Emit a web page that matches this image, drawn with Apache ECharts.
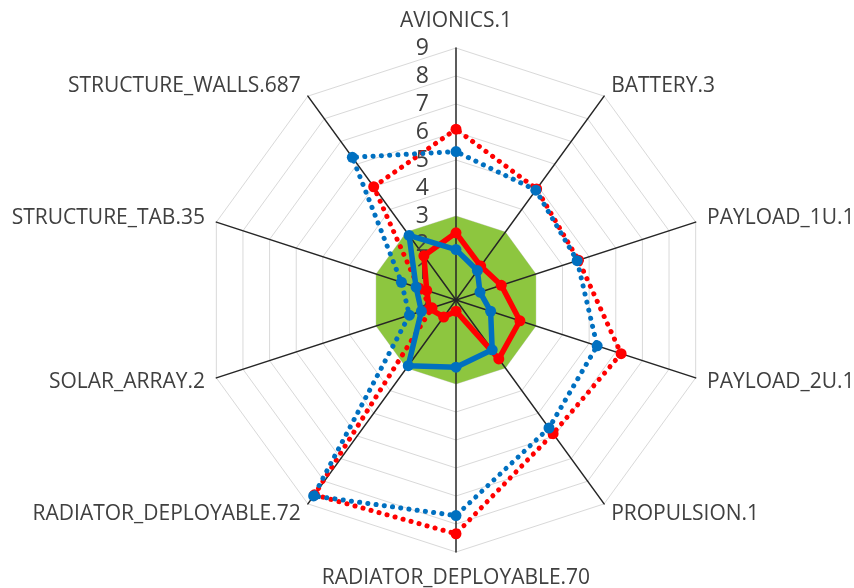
<!DOCTYPE html>
<html>
<head>
<meta charset="utf-8">
<script src="https://cdn.jsdelivr.net/npm/echarts@6/dist/echarts.min.js"></script>
<style>
  html, body { margin: 0; padding: 0; background: #fff; }
  #chart { width: 854px; height: 588px; }
</style>
</head>
<body>
<div id="chart"></div>
<script>
// Spokes, listed clockwise from the top
const categories = [
  'AVIONICS.1', 'BATTERY.3', 'PAYLOAD_1U.1', 'PAYLOAD_2U.1', 'PROPULSION.1',
  'RADIATOR_DEPLOYABLE.70', 'RADIATOR_DEPLOYABLE.72', 'SOLAR_ARRAY.2',
  'STRUCTURE_TAB.35', 'STRUCTURE_WALLS.687'
];
const tickLabels = ['0', '1', '2', '3', '4', '5', '6', '7', '8', '9'];
const axisMax = 9;

// Series values, same clockwise order as categories
const bandValues      = [3, 3, 3, 3, 3, 3, 3, 3, 3, 3];
const redDotted       = [6.1, 4.9, 4.6, 6.2, 5.9, 8.35, 8.6, 0.9, 1.4, 5.0];
const blueDotted      = [5.3, 4.85, 4.55, 5.3, 5.65, 7.7, 8.65, 1.75, 2.05, 6.3];
const redSolid        = [2.4, 1.5, 1.7, 2.4, 2.6, 0.4, 0.75, 1.0, 1.1, 1.95];
const blueSolid       = [1.8, 1.3, 0.9, 1.3, 2.2, 2.4, 2.9, 1.3, 1.5, 2.85];

const RED = '#ff0000';
const BLUE = '#0070c0';
const GREEN = '#8dc63f';
const TEXT = '#404040';
const FONT = '"Open Sans", Lato, sans-serif';

// ECharts lays radar spokes out counter-clockwise; reorder so they run clockwise
const order = [0, 9, 8, 7, 6, 5, 4, 3, 2, 1];
const reorder = arr => order.map(i => arr[i]);

const center = [456, 300];
const radius = 252;

const indicatorBase = reorder(categories).map(name => ({ name: name, min: 0, max: axisMax }));

// Background grid (rings) underneath everything
const gridRadar = {
  center: center, radius: radius, startAngle: 90, shape: 'polygon',
  splitNumber: axisMax, z: 0,
  indicator: indicatorBase.map(d => ({ name: d.name, min: d.min, max: d.max })),
  axisName: { show: false },
  axisLine: { show: false },
  axisTick: { show: false },
  axisLabel: { show: false },
  splitArea: { show: false },
  splitLine: { lineStyle: { color: '#d9d9d9', width: 1 } }
};

// Spokes, spoke names and value labels drawn over the green band
const spokeRadar = {
  center: center, radius: radius, startAngle: 90, shape: 'polygon',
  splitNumber: axisMax, z: 2,
  indicator: indicatorBase.map((d, i) => {
    const ind = { name: d.name, min: d.min, max: d.max };
    if (i === 0) {
      ind.axisLabel = {
        show: true, showMinLabel: true, showMaxLabel: true,
        formatter: v => tickLabels[Math.round(v)],
        color: TEXT, fontFamily: FONT, fontSize: 23, margin: 27
      };
    }
    return ind;
  }),
  nameGap: 12,
  axisName: { color: TEXT, fontFamily: FONT, fontSize: 21, padding: [4, 0, 4, 0] },
  axisLine: { show: true, lineStyle: { color: '#262626', width: 1.5 } },
  axisTick: { show: false },
  axisLabel: { show: false },
  splitArea: { show: false },
  splitLine: { show: false }
};

function lineSeries(name, values, color, dotted, z) {
  return {
    type: 'radar', radarIndex: 1, z: z, silent: true,
    name: name,
    symbol: 'circle',
    symbolSize: 11,
    itemStyle: { color: color },
    lineStyle: dotted
      ? { color: color, width: 5, type: [0.1, 8.2], cap: 'round' }
      : { color: color, width: 5.5, join: 'round' },
    data: [{ value: reorder(values) }]
  };
}

const option = {
  animation: false,
  backgroundColor: '#ffffff',
  radar: [gridRadar, spokeRadar],
  series: [
    {
      type: 'radar', radarIndex: 0, z: 1, silent: true, name: 'band',
      symbol: 'none',
      lineStyle: { width: 0 },
      areaStyle: { color: GREEN, opacity: 1 },
      data: [{ value: reorder(bandValues) }]
    },
    lineSeries('red dotted', redDotted, RED, true, 3),
    lineSeries('red solid', redSolid, RED, false, 3),
    lineSeries('blue dotted', blueDotted, BLUE, true, 4),
    lineSeries('blue solid', blueSolid, BLUE, false, 4)
  ]
};

const chart = echarts.init(document.getElementById('chart'), null, { renderer: 'canvas' });
chart.setOption(option);
</script>
</body>
</html>
